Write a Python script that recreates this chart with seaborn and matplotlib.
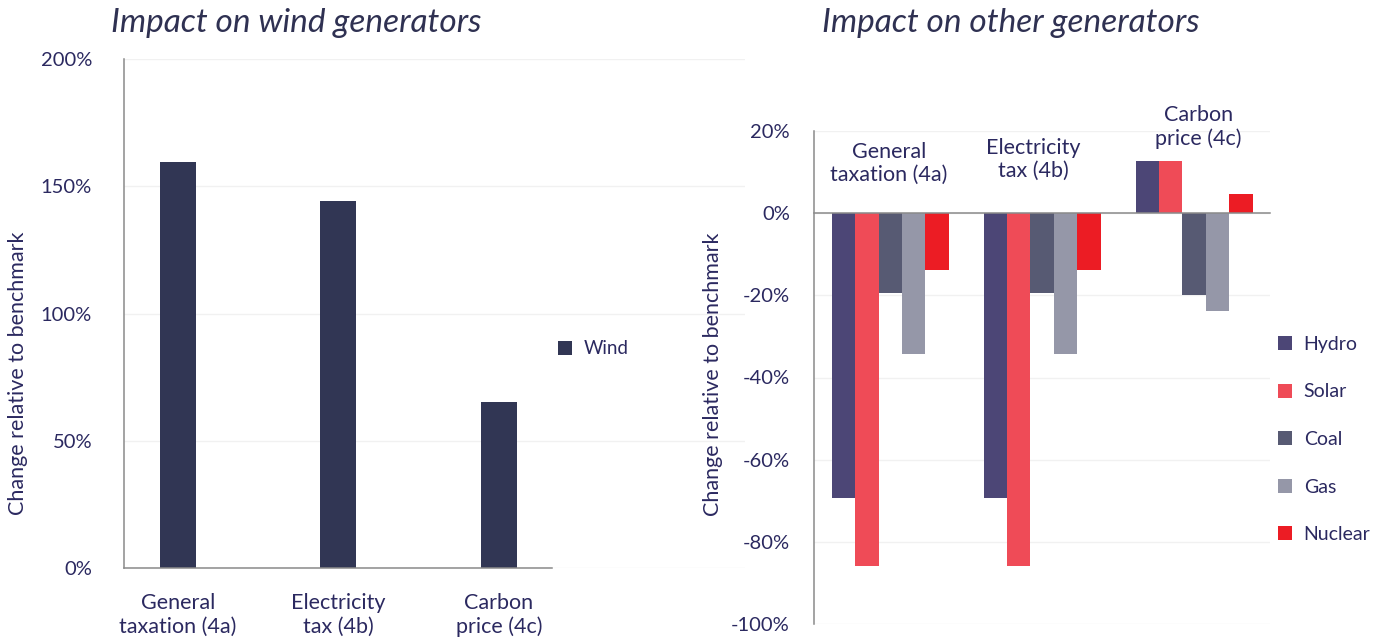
import numpy as np
import pandas as pd
import matplotlib
matplotlib.use('Agg')
import matplotlib.pyplot as plt
import seaborn as sns

# data (percent change relative to benchmark)
scenarios = ['General\ntaxation (4a)', 'Electricity\ntax (4b)', 'Carbon\nprice (4c)']
wind = [159.6, 144.3, 65.2]

generators = ['Hydro', 'Solar', 'Coal', 'Gas', 'Nuclear']
hydro = [-69.4, -69.4, 12.7]
solar = [-85.9, -85.9, 12.7]
coal = [-19.4, -19.4, -20.0]
gas = [-34.4, -34.4, -23.9]
nuclear = [-13.8, -13.8, 4.7]

wind_ticks = [0, 50, 100, 150, 200]
other_ticks = [20, 0, -20, -40, -60, -80, -100]

wind_color = '#313654'
gen_colors = ['#4c4676', '#ef4b57', '#575a73', '#9597a8', '#ec1c24']
text_color = '#2b2960'
title_color = '#2f3152'
spine_color = '#8a8a8a'
grid_color = '#f1f1f1'

df_wind = pd.DataFrame({'scenario': scenarios, 'change': wind, 'generator': 'Wind'})
df_other = pd.DataFrame({
    'scenario': scenarios * len(generators),
    'generator': np.repeat(generators, len(scenarios)),
    'change': hydro + solar + coal + gas + nuclear,
})

sns.set_style('white')
plt.rcParams['font.family'] = ['Lato', 'DejaVu Sans']
plt.rcParams['text.color'] = text_color

fig = plt.figure(figsize=(13.91, 6.39), dpi=100)
W, H = 1391, 639

# ---- left: wind ----
ax1 = fig.add_axes([123.7 / W, 1 - 568.3 / H, (745 - 123.7) / W, (568.3 - 59) / H])
sns.barplot(data=df_wind, x='scenario', y='change', hue='generator',
            palette=[wind_color], width=0.226, saturation=1, linewidth=0, ax=ax1)
ax1.set_xlim(-0.336, 3.533)
ax1.set_ylim(0, 200)
ax1.set_yticks(wind_ticks)
ax1.set_yticklabels([f'{v}%' for v in wind_ticks])
ax1.set_xlabel('')
ax1.set_ylabel('')
ax1.set_axisbelow(True)
ax1.yaxis.grid(True, color=grid_color, lw=1)
for s in ['top', 'right']:
    ax1.spines[s].set_visible(False)
ax1.spines['bottom'].set_bounds(-0.336, 2.33)
for s in ['left', 'bottom']:
    ax1.spines[s].set_color(spine_color)
    ax1.spines[s].set_linewidth(1.1)
ax1.tick_params(axis='y', length=6.8, color=spine_color, pad=16, labelsize=14.5, labelcolor=text_color)
ax1.tick_params(axis='x', length=0, pad=18, labelsize=15.5, labelcolor=text_color)
for t in ax1.get_xticklabels():
    t.set_linespacing(1.2)

h, l = ax1.get_legend_handles_labels()
ax1.legend(h, l, loc='center left', bbox_to_anchor=(558 / W, 1 - 349 / H),
           bbox_transform=fig.transFigure, frameon=False, fontsize=13.5,
           handlelength=0.75, handleheight=0.75, handletextpad=0.6,
           borderpad=0, borderaxespad=0)

# ---- right: other generators ----
ax2 = fig.add_axes([814.3 / W, 1 - 624.3 / H, (1270 - 814.3) / W, (624.3 - 130.7) / H])
sns.barplot(data=df_other, x='scenario', y='change', hue='generator', hue_order=generators,
            palette=gen_colors, width=0.77, gap=0, saturation=1, linewidth=0, ax=ax2)
ax2.set_xlim(-0.5, 2.5)
ax2.set_ylim(-100, 20)
ax2.set_yticks(other_ticks)
ax2.set_yticklabels([f'{v}%' for v in other_ticks])
ax2.set_xticks([-0.5, 0.5, 1.5, 2.5])
ax2.set_xticklabels([])
ax2.set_xlabel('')
ax2.set_ylabel('')
ax2.set_axisbelow(True)
ax2.yaxis.grid(True, color=grid_color, lw=1)
for s in ['top', 'right']:
    ax2.spines[s].set_visible(False)
ax2.spines['bottom'].set_position(('data', 0))
for s in ['left', 'bottom']:
    ax2.spines[s].set_color(spine_color)
    ax2.spines[s].set_linewidth(1.1)
ax2.tick_params(axis='y', length=5.5, color=spine_color, pad=12, labelsize=14.5, labelcolor=text_color)
ax2.tick_params(axis='x', length=5.8, color=spine_color, direction='out')

# group labels sit above the bars
label_dx = [-0.01, -0.06, 0.03]
label_y = [12.0, 13.0, 21.0]
for i, name in enumerate(scenarios):
    ax2.text(i + label_dx[i], label_y[i], name, ha='center', va='center', fontsize=15.5,
             color=text_color, linespacing=1.2, clip_on=False)

h, l = ax2.get_legend_handles_labels()
ax2.legend(h, l, loc='center left', bbox_to_anchor=(1278 / W, 1 - 439.5 / H),
           bbox_transform=fig.transFigure, frameon=False, fontsize=14,
           handlelength=0.72, handleheight=0.72, handletextpad=0.6,
           labelspacing=1.57, borderpad=0, borderaxespad=0)

# titles and axis labels
fig.text(111 / W, 1 - 31.7 / H, 'Impact on wind generators', fontsize=24,
         style='italic', color=title_color, va='baseline', ha='left')
fig.text(822 / W, 1 - 31.7 / H, 'Impact on other generators', fontsize=24,
         style='italic', color=title_color, va='baseline', ha='left')
fig.text(18 / W, 1 - 373 / H, 'Change relative to benchmark', rotation=90,
         fontsize=15.5, ha='center', va='center', color=text_color)
fig.text(713 / W, 1 - 374 / H, 'Change relative to benchmark', rotation=90,
         fontsize=15.5, ha='center', va='center', color=text_color)

fig.savefig('out.png', dpi=100)
